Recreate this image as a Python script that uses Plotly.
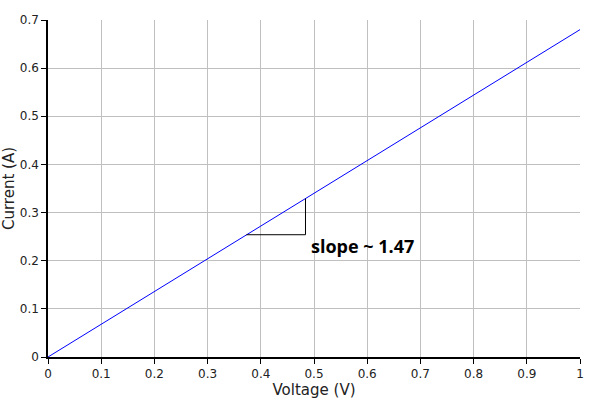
import plotly.graph_objects as go

voltage = [0, 1]
current = [0, 0.68]
tri_x = [0.373, 0.484, 0.484]
tri_y = [0.254, 0.254, 0.329]
slope_label = "slope ~ 1.47"
label_pos = (0.491, 0.23)
x_ticks = [0, 0.1, 0.2, 0.3, 0.4, 0.5, 0.6, 0.7, 0.8, 0.9, 1]
x_tick_text = ["0", "0.1", "0.2", "0.3", "0.4", "0.5", "0.6", "0.7", "0.8", "0.9", "1"]
y_ticks = [0, 0.1, 0.2, 0.3, 0.4, 0.5, 0.6, 0.7]
y_tick_text = ["0", "0.1", "0.2", "0.3", "0.4", "0.5", "0.6", "0.7"]

fig = go.Figure()
fig.add_trace(go.Scatter(x=voltage, y=current, mode="lines",
                         line=dict(color="#0000ff", width=1), showlegend=False))
fig.add_trace(go.Scatter(x=tri_x, y=tri_y, mode="lines",
                         line=dict(color="black", width=1), showlegend=False))
fig.add_annotation(x=label_pos[0], y=label_pos[1], text="<b>" + slope_label + "</b>",
                   showarrow=False, xanchor="left", yanchor="middle",
                   font=dict(family="Open Sans", size=18, color="black"))

axis_common = dict(showgrid=True, gridcolor="#c0c0c0", gridwidth=1,
                   showline=True, linecolor="black", linewidth=1.5,
                   ticks="outside", ticklen=5, tickcolor="black",
                   zeroline=False, automargin=False,
                   tickfont=dict(family="DejaVu Sans", size=12, color="#222"),
                   title_font=dict(family="DejaVu Sans", size=15, color="#222"))

fig.update_xaxes(range=[0, 1], tickvals=x_ticks, ticktext=x_tick_text,
                 title_text="Voltage (V)", title_standoff=1, **axis_common)
fig.update_yaxes(range=[0, 0.7], tickvals=y_ticks, ticktext=y_tick_text,
                 title_text="Current (A)", title_standoff=6, **axis_common)

fig.update_layout(width=600, height=400, margin=dict(l=48, r=20, t=20, b=43),
                  plot_bgcolor="white", paper_bgcolor="white")
fig.write_html("out.html")
